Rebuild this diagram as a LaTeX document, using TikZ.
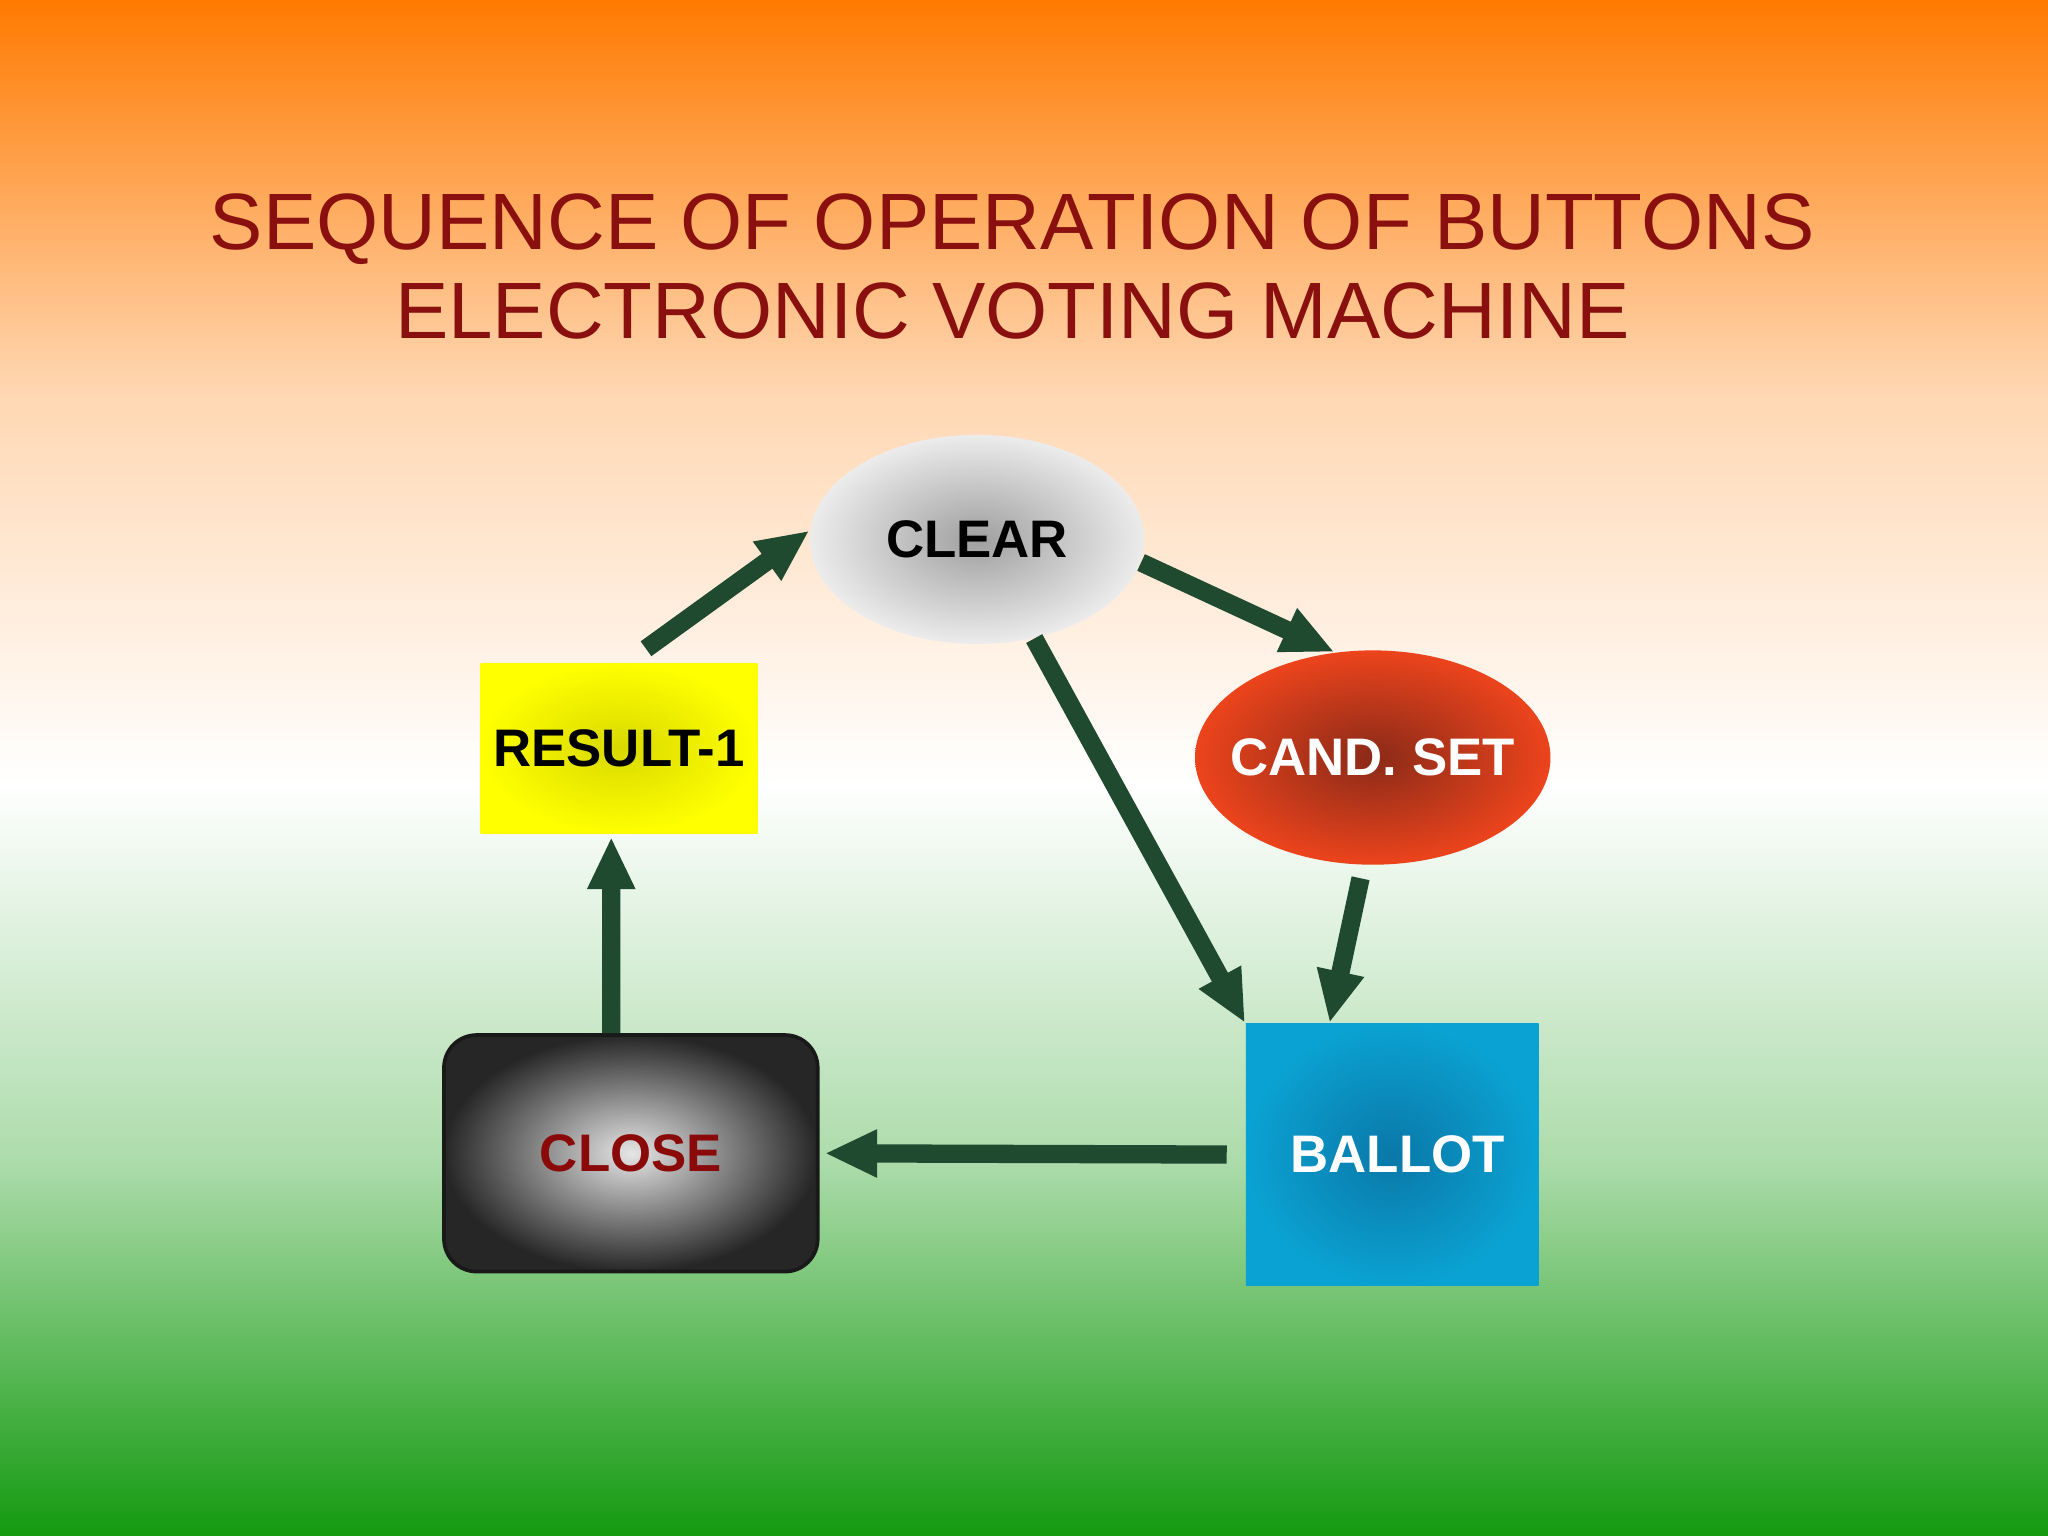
\documentclass[tikz,border=0pt]{standalone}
\usepackage{fontspec}
\setmainfont{Liberation Sans}
\usetikzlibrary{arrows.meta,shapes.geometric}
\definecolor{orangetop}{HTML}{FF7A00}
\definecolor{greenbot}{HTML}{149A10}
\definecolor{titlered}{HTML}{8A1010}
\definecolor{arrowgreen}{HTML}{1F4A30}
\definecolor{candin}{HTML}{8A2A18}
\definecolor{candout}{HTML}{EC441C}
\definecolor{ballin}{HTML}{0A78A8}
\definecolor{ballout}{HTML}{0AA2D2}
\definecolor{closered}{HTML}{8A0A0A}
\tikzset{
  flowarrow/.style={draw=arrowgreen,line width=0.14cm,-{Triangle[width=0.34cm,length=0.4cm]}},
  btntext/.style={font=\bfseries\fontsize{11.5}{13}\selectfont,inner sep=0pt}
}
\begin{document}
\begin{tikzpicture}[x=0.01cm,y=-0.01cm]
\useasboundingbox (0,0) rectangle (1568,1176);
\shade[top color=orangetop,bottom color=white,middle color=orangetop!30!white] (0,0) rectangle (1568,600);
\shade[top color=white,bottom color=greenbot,middle color=greenbot!35!white] (0,599) rectangle (1568,1176);
\node[text=titlered,font=\fontsize{17.4}{19.5}\selectfont,align=center] (title) at (775,204) {SEQUENCE OF OPERATION OF BUTTONS\\ELECTRONIC VOTING MACHINE};
\node[ellipse,minimum width=2.56cm,minimum height=1.6cm,inner color=gray!75,outer color=gray!15,btntext,text=black] (clear) at (748,413) {CLEAR};
\node[ellipse,minimum width=2.72cm,minimum height=1.64cm,inner color=candin,outer color=candout,btntext,inner xsep=-0.13cm,text=white] (cand) at (1051,580) {CAND. SET};
\node[rectangle,minimum width=2.12cm,minimum height=1.3cm,inner color=yellow!85!black,outer color=yellow,btntext,text=black] (result) at (474,573) {RESULT-1};
\node[rectangle,rounded corners=0.25cm,minimum width=2.86cm,minimum height=1.81cm,inner color=gray!20,outer color=black!85,draw=black!90,line width=0.8pt,btntext,text=closered] (close) at (483,883) {CLOSE};
\node[rectangle,minimum width=2.24cm,minimum height=2.0cm,inner color=ballin,outer color=ballout,btntext,text=white] (ballot) at (1066,884) {\hspace{0.08cm}BALLOT};
\draw[flowarrow,shorten <=0.18cm] ([xshift=0.06cm]result.north) -- (clear.177);
\draw[flowarrow] (clear.-8) -- (cand.110);
\draw[flowarrow] (clear.-60) -- (ballot.north west);
\draw[flowarrow,shorten <=0.1cm] (cand.-95) -- ([xshift=-0.48cm]ballot.north);
\draw[flowarrow,shorten <=0.14cm,shorten >=0.04cm] (ballot.west) -- (close.east);
\draw[flowarrow,shorten >=0.02cm] ([xshift=-0.15cm]close.north) -- ([xshift=-0.06cm]result.south);
\end{tikzpicture}
\end{document}
